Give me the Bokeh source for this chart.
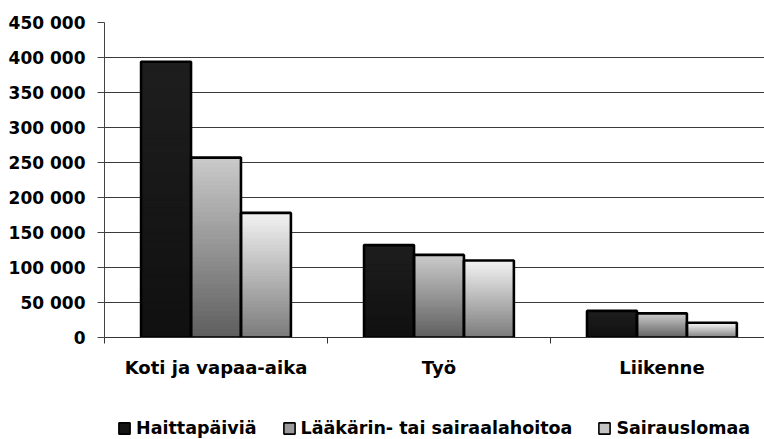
from bokeh.plotting import figure
from bokeh.layouts import column
from bokeh.models import (ColumnDataSource, Range1d, FixedTicker, Legend, LegendItem)
from bokeh.embed import file_html
from bokeh.resources import INLINE

# ---- data ----
categories = ["Koti ja vapaa-aika", "Työ", "Liikenne"]
series_names = ["Haittapäiviä", "Lääkärin- tai sairaalahoitoa", "Sairauslomaa"]
haittapaivia = [394000, 132000, 38000]
laakarin = [257000, 118000, 34500]
sairauslomaa = [178000, 110000, 21000]
y_ticks = [0, 50000, 100000, 150000, 200000, 250000, 300000, 350000, 400000, 450000]
y_tick_labels = ["0", "50 000", "100 000", "150 000", "200 000", "250 000",
                 "300 000", "350 000", "400 000", "450 000"]

series_values = [haittapaivia, laakarin, sairauslomaa]
# gradient (bottom colour, top colour) per series
grad = [((0x10, 0x10, 0x10), (0x1e, 0x1e, 0x1e)),
        ((0x5e, 0x5e, 0x5e), (0xca, 0xca, 0xca)),
        ((0x7a, 0x7a, 0x7a), (0xf2, 0xf2, 0xf2))]
legend_fill = ["#141414", "#9a9a9a", "#c4c4c4"]

FONT = "DejaVu Sans"
bar_w = 0.224
offsets = [-bar_w, 0.0, bar_w]
centers = [i + 0.5 for i in range(len(categories))]

p = figure(width=764, height=380, output_backend="svg", toolbar_location=None,
           x_range=Range1d(0, 2.96), y_range=Range1d(0, 450000),
           min_border_left=104, min_border_right=0, min_border_top=22,
           min_border_bottom=41)
p.outline_line_color = None
p.background_fill_color = "white"
p.border_fill_color = "white"
p.xgrid.grid_line_color = None
p.ygrid.grid_line_color = "#3a3a3a"
p.ygrid.grid_line_width = 1
p.ygrid.ticker = FixedTicker(ticks=y_ticks)

# gradient strips (vertical gradient inside each bar)
N = 40
xs, bots, tops, cols = [], [], [], []
for s, vals in enumerate(series_values):
    (b0, b1, b2), (t0, t1, t2) = grad[s]
    for c, v in enumerate(vals):
        for k in range(N):
            f = (k + 0.5) / N
            col = "#%02x%02x%02x" % (round(b0 + (t0 - b0) * f),
                                     round(b1 + (t1 - b1) * f),
                                     round(b2 + (t2 - b2) * f))
            xs.append(centers[c] + offsets[s])
            bots.append(v * k / N)
            tops.append(v * (k + 1) / N)
            cols.append(col)
strips = ColumnDataSource(dict(x=xs, bottom=bots, top=tops, color=cols))
p.vbar(x="x", bottom="bottom", top="top", width=bar_w, source=strips,
       fill_color="color", line_color="color", line_width=1.5)

# outlines
ox, otop = [], []
for s, vals in enumerate(series_values):
    for c, v in enumerate(vals):
        ox.append(centers[c] + offsets[s])
        otop.append(v)
p.vbar(x=ox, top=otop, bottom=0, width=bar_w, fill_color=None,
       line_color="black", line_width=2.6)

# y axis
ya = p.yaxis[0]
ya.ticker = FixedTicker(ticks=y_ticks)
ya.major_label_overrides = {t: l for t, l in zip(y_ticks, y_tick_labels)}
ya.major_label_text_font = FONT
ya.major_label_text_font_style = "bold"
ya.major_label_text_font_size = "17px"
ya.major_label_text_color = "black"
ya.major_label_standoff = 12
ya.major_tick_out = 7
ya.major_tick_in = 0
ya.minor_tick_line_color = None
ya.axis_line_color = "#444444"
ya.major_tick_line_color = "#444444"

# x axis
xa = p.xaxis[0]
xa.ticker = FixedTicker(ticks=centers, minor_ticks=[0, 1, 2, 3])
xa.major_label_overrides = {c: n for c, n in zip(centers, categories)}
xa.major_tick_line_color = None
xa.major_tick_out = 0
xa.major_tick_in = 0
xa.minor_tick_out = 6
xa.minor_tick_in = 0
xa.minor_tick_line_color = "#333333"
xa.axis_line_color = "#333333"
xa.major_label_text_font = FONT
xa.major_label_text_font_style = "bold"
xa.major_label_text_font_size = "18px"
xa.major_label_text_color = "black"
xa.major_label_standoff = 13

# ---- legend strip (separate figure below the chart) ----
lf = figure(width=764, height=59, output_backend="svg", toolbar_location=None,
            x_range=Range1d(0, 1), y_range=Range1d(0, 1),
            x_axis_type=None, y_axis_type=None,
            min_border_left=0, min_border_right=0, min_border_top=0,
            min_border_bottom=0)
lf.outline_line_color = None
lf.xgrid.grid_line_color = None
lf.ygrid.grid_line_color = None
lf.background_fill_color = "white"
lf.border_fill_color = "white"

items = []
for s, name in enumerate(series_names):
    r = lf.vbar(x=[0.5], top=[1], width=0.1, fill_color=legend_fill[s],
                line_color="black", line_width=1.6, visible=False)
    items.append(LegendItem(label=name, renderers=[r]))
legend = Legend(items=items, orientation="horizontal", location=(13, 1),
                padding=0, margin=0, spacing=25, label_standoff=5,
                glyph_width=14, glyph_height=14, border_line_color=None,
                background_fill_alpha=0, label_text_font=FONT,
                label_text_font_style="bold", label_text_font_size="17.5px",
                label_text_color="black", click_policy="none")
lf.add_layout(legend, "center")

open("out.html", "w").write(file_html(column(p, lf, spacing=0), INLINE))
